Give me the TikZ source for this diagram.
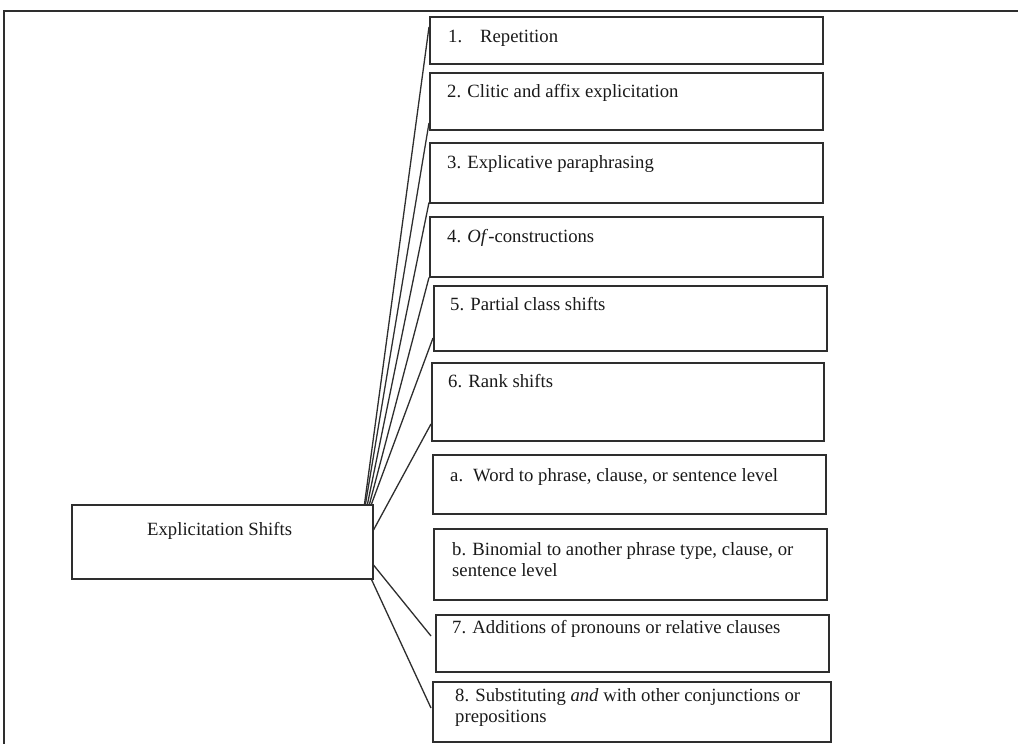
\documentclass[tikz,border=0pt]{standalone}
\usepackage{fontspec}
\setmainfont{Liberation Serif}
\usetikzlibrary{calc}
\definecolor{edge}{HTML}{2E2E2E}
\definecolor{ink}{HTML}{1A1A1A}
\tikzset{
  itembox/.style={draw=edge, line width=1.5pt, rectangle, inner sep=0pt, anchor=north west},
  itemtext/.style={anchor=base west, inner sep=0pt, text=ink, align=left,
    font=\fontsize{18.7}{21}\selectfont},
  link/.style={draw=edge, line width=1.3pt},
  frame/.style={draw=edge, line width=1.6pt}
}
\newcommand{\ibox}[5]{\node[itembox, minimum width=#4-#2, minimum height=#5-#3] (#1) at (#2,#3) {};}
\begin{document}
\begin{tikzpicture}[x=1pt,y=-1pt]
\useasboundingbox (0,0) rectangle (1018,744);
\fill[white] (0,0) rectangle (1018,744);
% outer frame (table border)
\draw[frame] (4,744) -- (4,11) -- (1018,11);
% boxes
\ibox{b1}{429}{16}{822}{63}
\ibox{b2}{429}{72}{822}{129}
\ibox{b3}{429}{142}{822}{202}
\ibox{b4}{429}{216}{822}{276}
\ibox{b5}{433}{285}{826}{350}
\ibox{b6}{431}{362}{823}{440}
\ibox{ba}{432}{454}{825}{513}
\ibox{bb}{433}{528}{826}{599}
\ibox{b7}{435}{614}{828}{671}
\ibox{b8}{432}{681}{830}{741}
\ibox{c}{71}{504}{372}{578}
% texts
\node[itemtext] (t1) at ($(b1.north west)+(19,26)$) {1.\hspace*{18pt}Repetition};
\node[itemtext] (t2) at ($(b2.north west)+(18,25)$) {2. Clitic and affix explicitation};
\node[itemtext] (t3) at ($(b3.north west)+(18,26)$) {3. Explicative paraphrasing};
\node[itemtext] (t4) at ($(b4.north west)+(18,26)$) {4. \textit{Of}-constructions};
\node[itemtext] (t5) at ($(b5.north west)+(17,25)$) {5. Partial class shifts};
\node[itemtext] (t6) at ($(b6.north west)+(17,25)$) {6. Rank shifts};
\node[itemtext] (ta) at ($(ba.north west)+(18,27)$) {a.\hspace*{10pt}Word to phrase, clause, or sentence level};
\node[itemtext] (tb) at ($(bb.north west)+(19,48)$) {b. Binomial to another phrase type, clause, or\\sentence level};
\node[itemtext] (t7) at ($(b7.north west)+(17,19)$) {7. Additions of pronouns or relative clauses};
\node[itemtext] (t8) at ($(b8.north west)+(23,41)$) {8. Substituting \textit{and} with other conjunctions or\\prepositions};
\node[itemtext] (tc) at ($(c.north west)+(76,31)$) {Explicitation Shifts};
% connectors
\draw[link] ($(c.north east)+(-9,0)$) -- ($(b1.north west)+(0,11)$);
\draw[link] ($(c.north east)+(-8,0)$) -- ($(b2.north west)+(0,51)$);
\draw[link] ($(c.north east)+(-6,0)$) -- ($(b3.south west)+(0,-1)$);
\draw[link] ($(c.north east)+(-4,0)$) -- (b4.south west);
\draw[link] ($(c.north east)+(-2,0)$) -- ($(b5.north west)+(0,53)$);
\draw[link] ($(c.north east)+(0,26)$) -- ($(b6.north west)+(0,62)$);
\draw[link] ($(c.north east)+(0,61)$) -- ($(b7.north west)+(-4,22)$);
\draw[link] ($(c.south east)+(-2,0)$) -- ($(b8.north west)+(-1,27)$);
\end{tikzpicture}
\end{document}
